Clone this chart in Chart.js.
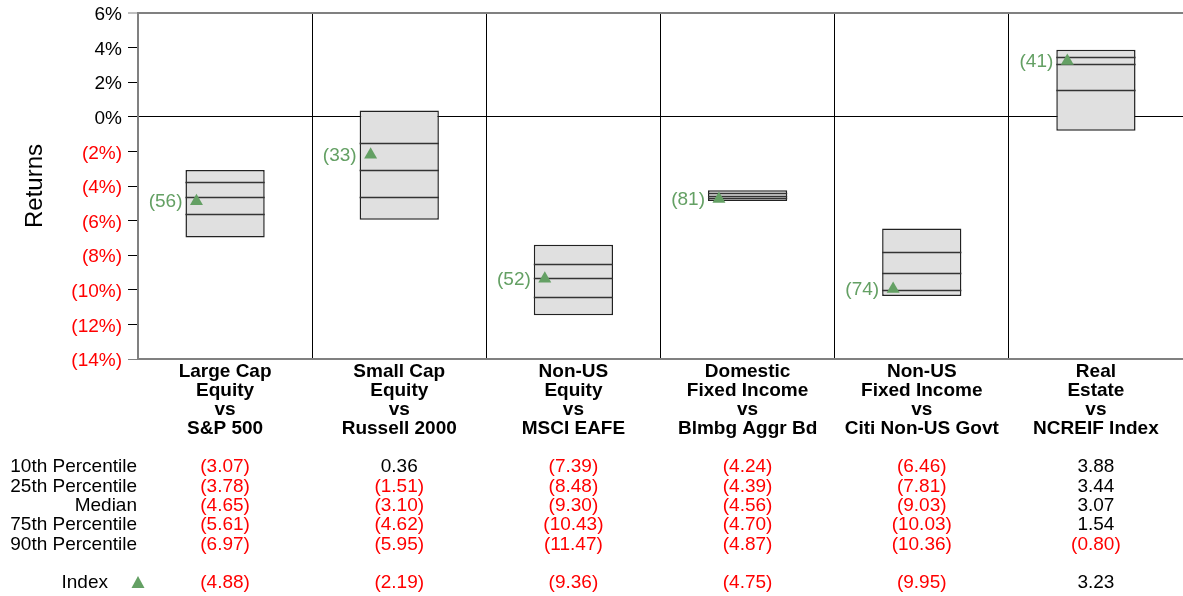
<!DOCTYPE html>
<html>
<head>
<meta charset="utf-8">
<script src="https://cdn.jsdelivr.net/npm/chart.js@4.4.1/dist/chart.umd.min.js"></script>
<style>
  body { margin: 0; background: #fff; }
  #wrap { width: 1183px; height: 596px; position: relative; }
</style>
</head>
<body>
<div id="wrap"><canvas id="returnsChart"></canvas></div>
<script>
const categories = [
    ['Large Cap', 'Equity', 'vs', 'S&P 500'],
    ['Small Cap', 'Equity', 'vs', 'Russell 2000'],
    ['Non-US', 'Equity', 'vs', 'MSCI EAFE'],
    ['Domestic', 'Fixed Income', 'vs', 'Blmbg Aggr Bd'],
    ['Non-US', 'Fixed Income', 'vs', 'Citi Non-US Govt'],
    ['Real', 'Estate', 'vs', 'NCREIF Index']
];
const p10 = [-3.07, 0.36, -7.39, -4.24, -6.46, 3.88];
const p25 = [-3.78, -1.51, -8.48, -4.39, -7.81, 3.44];
const median = [-4.65, -3.10, -9.30, -4.56, -9.03, 3.07];
const p75 = [-5.61, -4.62, -10.43, -4.70, -10.03, 1.54];
const p90 = [-6.97, -5.95, -11.47, -4.87, -10.36, -0.80];
const indexReturns = [-4.88, -2.19, -9.36, -4.75, -9.95, 3.23];
const indexRanks = [56, 33, 52, 81, 74, 41];
const rowLabels = ['10th Percentile', '25th Percentile', 'Median', '75th Percentile', '90th Percentile'];
const yMin = -14, yMax = 6, yStep = 2;

const GREEN = '#64a064';
const RED = '#ff0000';
const FONT = '"Liberation Sans", Arial, sans-serif';

function fmtNum(v) {
    return v < 0 ? '(' + Math.abs(v).toFixed(2) + ')' : v.toFixed(2);
}

// draws the 25th / median / 75th lines inside each floating bar
const percentileLines = {
    id: 'percentileLines',
    afterDatasetDraw(chart, args) {
        if (args.index !== 0) return;
        const ctx = chart.ctx;
        const y = chart.scales.y;
        ctx.save();
        ctx.strokeStyle = '#333';
        ctx.lineWidth = 1.5;
        args.meta.data.forEach((bar, i) => {
            const left = bar.x - bar.width / 2;
            const right = bar.x + bar.width / 2;
            [p25[i], median[i], p75[i]].forEach(v => {
                const py = Math.round(y.getPixelForValue(v)) + 0.5;
                ctx.beginPath();
                ctx.moveTo(left, py);
                ctx.lineTo(right, py);
                ctx.stroke();
            });
        });
        ctx.restore();
    }
};

// moves the index markers to the left side of the bars
const shiftMarkers = {
    id: 'shiftMarkers',
    afterDatasetsUpdate(chart) {
        const bars = chart.getDatasetMeta(0).data;
        chart.getDatasetMeta(1).data.forEach((pt, i) => {
            const bar = bars[i];
            pt.x = bar.x - bar.width / 2 + 11;
        });
    }
};

const labelsAndTable = {
    id: 'labelsAndTable',
    afterDraw(chart) {
        const ctx = chart.ctx;
        const x = chart.scales.x;
        const pts = chart.getDatasetMeta(1).data;
        ctx.save();
        ctx.textBaseline = 'middle';

        // rank labels next to markers
        ctx.font = '19px ' + FONT;
        ctx.fillStyle = GREEN;
        ctx.textAlign = 'right';
        pts.forEach((pt, i) => {
            ctx.fillText('(' + indexRanks[i] + ')', pt.x - 14, pt.y + 1);
        });

        // category labels
        ctx.font = 'bold 19px ' + FONT;
        ctx.fillStyle = '#000';
        ctx.textAlign = 'center';
        categories.forEach((lines, i) => {
            const cx = x.getPixelForValue(i);
            lines.forEach((t, j) => ctx.fillText(t, cx, 372 + j * 19));
        });

        // table
        ctx.font = '19px ' + FONT;
        const rows = [p10, p25, median, p75, p90];
        rows.forEach((vals, r) => {
            const ry = 467 + r * 19.4;
            ctx.fillStyle = '#000';
            ctx.textAlign = 'right';
            ctx.fillText(rowLabels[r], 137, ry);
            ctx.textAlign = 'center';
            vals.forEach((v, i) => {
                ctx.fillStyle = v < 0 ? RED : '#000';
                ctx.fillText(fmtNum(v), x.getPixelForValue(i), ry);
            });
        });
        const iy = 583;
        ctx.fillStyle = '#000';
        ctx.textAlign = 'right';
        ctx.fillText('Index', 108, iy);
        ctx.fillStyle = GREEN;
        ctx.beginPath();
        ctx.moveTo(138, iy - 7);
        ctx.lineTo(144.5, iy + 5);
        ctx.lineTo(131.5, iy + 5);
        ctx.closePath();
        ctx.fill();
        ctx.textAlign = 'center';
        indexReturns.forEach((v, i) => {
            ctx.fillStyle = v < 0 ? RED : '#000';
            ctx.fillText(fmtNum(v), x.getPixelForValue(i), iy);
        });
        ctx.restore();
    }
};

new Chart(document.getElementById('returnsChart'), {
    type: 'bar',
    data: {
        labels: categories.map(c => c.join(' ')),
        datasets: [{
            data: p10.map((v, i) => [p90[i], v]),
            backgroundColor: '#e0e0e0',
            borderColor: '#222',
            borderWidth: 1.5,
            borderSkipped: false,
            barPercentage: 0.455,
            categoryPercentage: 1,
            order: 1
        }, {
            type: 'line',
            data: indexReturns,
            showLine: false,
            pointStyle: 'triangle',
            pointRadius: 7.5,
            pointBackgroundColor: GREEN,
            pointBorderColor: GREEN,
            pointBorderWidth: 0,
            clip: false,
            order: 0
        }]
    },
    options: {
        responsive: true,
        maintainAspectRatio: false,
        animation: false,
        events: [],
        layout: { autoPadding: false, padding: { top: 13, left: 0, right: 0, bottom: 0 } },
        plugins: {
            legend: { display: false },
            tooltip: { enabled: false }
        },
        scales: {
            x: {
                afterFit(scale) { scale.height = 596 - 359; },
                ticks: { display: false },
                border: { color: '#808080', width: 2 },
                grid: {
                    offset: true,
                    drawTicks: false,
                    lineWidth: 1,
                    color: c => (c.index === 0 || c.index === undefined) ? 'rgba(0,0,0,0)' : '#000'
                }
            },
            y: {
                min: yMin,
                max: yMax,
                afterFit(scale) { scale.width = 138; },
                border: { color: '#808080', width: 2 },
                ticks: {
                    stepSize: yStep,
                    padding: 6,
                    labelOffset: 2,
                    font: { family: FONT, size: 19, lineHeight: 0.7 },
                    color: c => c.tick.value < 0 ? RED : '#000',
                    callback: v => v < 0 ? '(' + Math.abs(v) + '%)' : v + '%'
                },
                grid: {
                    tickLength: 10,
                    tickWidth: 1,
                    tickColor: c => (c.tick && (c.tick.value === yMax || c.tick.value === yMin)) ? '#808080' : '#000',
                    lineWidth: c => (c.tick && c.tick.value === yMax) ? 2 : 1,
                    color: c => {
                        if (!c.tick) return 'rgba(0,0,0,0)';
                        if (c.tick.value === yMax) return '#808080';
                        if (c.tick.value === 0) return '#000';
                        return 'rgba(0,0,0,0)';
                    }
                },
                title: {
                    display: true,
                    text: 'Returns',
                    color: '#000',
                    font: { family: FONT, size: 24 },
                    padding: { top: 21, bottom: 0 }
                }
            }
        }
    },
    plugins: [percentileLines, shiftMarkers, labelsAndTable]
});
</script>
</body>
</html>
